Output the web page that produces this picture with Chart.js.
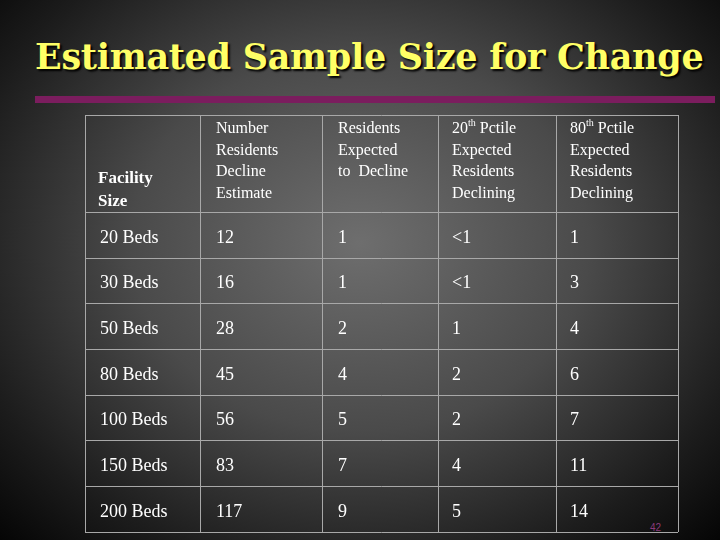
<!DOCTYPE html>
<html><head><meta charset="utf-8">
<script src="https://cdn.jsdelivr.net/npm/chart.js@4/dist/chart.umd.min.js"></script>
<style>
html,body{margin:0;padding:0;width:720px;height:540px;overflow:hidden;
background:radial-gradient(ellipse at 50% 45%, #6e6e6e 0%, #4a4a4a 45%, #1c1c1c 80%, #050505 100%);}
#title{position:absolute;left:35px;top:36px;font-family:"DejaVu Serif",serif;font-weight:bold;font-size:35px;letter-spacing:-0.3px;color:#ffff66;text-shadow:2px 2px 2px #000;white-space:nowrap;}
#bar{position:absolute;left:35px;top:96px;width:680px;height:7px;background:#7b1d5e;}
#pg{position:absolute;left:650px;top:522px;font-family:"Liberation Sans",sans-serif;font-size:10px;color:#8a3a7a;}
canvas{position:absolute;left:0;top:0;}
</style></head><body>
<div id="title">Estimated Sample Size for Change</div>
<div id="bar"></div>
<div id="pg">42</div>
<canvas id="c" width="720" height="540"></canvas>
<script>
const headers = [
  ["Facility","Size"],
  ["Number","Residents","Decline","Estimate"],
  ["Residents","Expected","to  Decline"],
  ["20^th Pctile","Expected","Residents","Declining"],
  ["80^th Pctile","Expected","Residents","Declining"]
];
const facility = ["20 Beds","30 Beds","50 Beds","80 Beds","100 Beds","150 Beds","200 Beds"];
const estimate = ["12","16","28","45","56","83","117"];
const expected = ["1","1","2","4","5","7","9"];
const pct20 = ["<1","<1","1","2","2","4","5"];
const pct80 = ["1","3","4","6","7","11","14"];
const colEdges = [0,115,237,353,471,593];
const rowEdges = [0,97,143,188,234,280,325,371,417];
const colTextOffset = [15,16,16,14,14];

function drawSup(ctx,txt,x,y,size){
  const parts = txt.split(/\^(\w+)/);
  let cx=x;
  parts.forEach((p,i)=>{
    if(i%2===1){ctx.font=`${Math.round(size*0.62)}px "Liberation Serif"`;ctx.fillText(p,cx,y-size*0.35);}
    else {ctx.font=`${size}px "Liberation Serif"`;ctx.fillText(p,cx,y);}
    cx+=ctx.measureText(p).width;
  });
}

const tablePlugin = {
  id:'table',
  afterDraw(chart){
    const ctx=chart.ctx, xs=chart.scales.x, ys=chart.scales.y;
    const X=v=>xs.getPixelForValue(v), Y=v=>ys.getPixelForValue(v);
    ctx.save();
    ctx.strokeStyle='#a8a8a8';ctx.lineWidth=1;
    colEdges.forEach(c=>{ctx.beginPath();ctx.moveTo(Math.round(X(c))+0.5,Y(rowEdges[0]));ctx.lineTo(Math.round(X(c))+0.5,Y(rowEdges[rowEdges.length-1]));ctx.stroke();});
    rowEdges.forEach(r=>{ctx.beginPath();ctx.moveTo(X(colEdges[0]),Math.round(Y(r))+0.5);ctx.lineTo(X(colEdges[colEdges.length-1]),Math.round(Y(r))+0.5);ctx.stroke();});
    ctx.fillStyle='#ffffff';ctx.textBaseline='middle';ctx.textAlign='left';
    headers.forEach((lines,ci)=>{
      const x=X(colEdges[ci])+colTextOffset[ci];
      if(ci===0){
        lines.forEach((l,li)=>{ctx.font='bold 17px "Liberation Serif"';ctx.fillText(l,x-2,Y(rowEdges[1])-33+li*23);});
      } else {
        lines.forEach((l,li)=>drawSup(ctx,l,x,Y(rowEdges[0])+14+li*21.5,16));
      }
    });
    const cols=[facility,estimate,expected,pct20,pct80];
    ctx.font='18px "Liberation Serif"';
    cols.forEach((arr,ci)=>{
      arr.forEach((v,ri)=>{
        const yc=(Y(rowEdges[ri+1])+Y(rowEdges[ri+2]))/2+3;
        ctx.fillText(v,X(colEdges[ci])+colTextOffset[ci],yc);
      });
    });
    ctx.restore();
  }
};

new Chart(document.getElementById('c'),{
  type:'scatter',
  data:{datasets:[{data:[]}]},
  options:{
    responsive:false,animation:false,
    layout:{padding:{left:85,right:42,top:115,bottom:8}},
    plugins:{legend:{display:false},tooltip:{enabled:false}},
    scales:{
      x:{display:false,min:colEdges[0],max:colEdges[colEdges.length-1]},
      y:{display:false,reverse:true,min:rowEdges[0],max:rowEdges[rowEdges.length-1]}
    }
  },
  plugins:[tablePlugin]
});
</script>
</body></html>
